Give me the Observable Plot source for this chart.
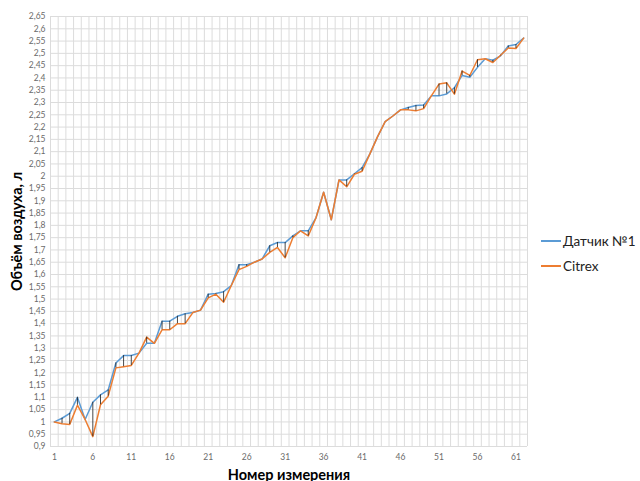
<!DOCTYPE html>
<html>
<head>
<meta charset="utf-8">
<script src="https://cdn.jsdelivr.net/npm/d3@7"></script>
<script src="https://cdn.jsdelivr.net/npm/@observablehq/plot@0.6"></script>
<style>
  html, body { margin: 0; padding: 0; background: #fff; }
  #wrap { position: relative; width: 640px; height: 481px; font-family: Lato, "Open Sans", sans-serif; }
  #wrap svg { font-family: Lato, "Open Sans", sans-serif; }
  g[aria-label="x-axis label"] text, g[aria-label="y-axis label"] text {
    font-weight: bold; font-size: 14.5px; fill: #000;
  }
  g[aria-label="x-axis tick label"] text, g[aria-label="y-axis tick label"] text {
    fill: #6b6b6b; font-size: 8.5px;
  }
  #legend { position: absolute; left: 541px; top: 228px; font-size: 13.5px; color: #222; }
  #legend .item { display: flex; align-items: center; height: 25px; }
  #legend .sw { width: 20px; height: 2px; margin-right: 2px; }
</style>
</head>
<body>
<div id="wrap"></div>
<script>
// Measurement numbers
const measurement = d3.range(1, 63);
// Series: "Датчик №1"
const sensor = [
  1.00, 1.015, 1.035, 1.10, 1.01, 1.08, 1.11, 1.13, 1.24, 1.27,
  1.27, 1.28, 1.32, 1.32, 1.41, 1.41, 1.43, 1.44, 1.445, 1.455,
  1.52, 1.523, 1.53, 1.555, 1.64, 1.64, 1.65, 1.663, 1.717, 1.73,
  1.73, 1.757, 1.778, 1.778, 1.83, 1.935, 1.823, 1.985, 1.985, 2.01,
  2.035, 2.09, 2.16, 2.222, 2.245, 2.27, 2.28, 2.288, 2.29, 2.327,
  2.327, 2.335, 2.36, 2.41, 2.403, 2.443, 2.478, 2.472, 2.49, 2.53,
  2.536, 2.562
];
// Series: "Citrex"
const citrex = [
  1.00, 0.993, 0.99, 1.068, 1.01, 0.94, 1.07, 1.105, 1.22, 1.225,
  1.23, 1.28, 1.345, 1.32, 1.375, 1.375, 1.40, 1.40, 1.445, 1.455,
  1.505, 1.52, 1.487, 1.555, 1.62, 1.633, 1.65, 1.663, 1.69, 1.71,
  1.668, 1.75, 1.778, 1.757, 1.83, 1.935, 1.823, 1.985, 1.957, 2.008,
  2.02, 2.09, 2.16, 2.222, 2.245, 2.27, 2.27, 2.266, 2.275, 2.327,
  2.375, 2.38, 2.334, 2.428, 2.41, 2.474, 2.478, 2.463, 2.492, 2.522,
  2.52, 2.562
];
// Tick labels
const xTicks = [1, 6, 11, 16, 21, 26, 31, 36, 41, 46, 51, 56, 61];
const yTicks = d3.range(0, 36).map(k => +(0.9 + k * 0.05).toFixed(2));
const seriesNames = ["Датчик №1", "Citrex"];
const seriesColors = ["#5b9bd5", "#ed7d31"];

const rows = measurement.map((m, k) => ({ m, s: sensor[k], c: citrex[k] }));
const fmt = v => String(+v.toFixed(2)).replace(".", ",");

const chart = Plot.plot({
  width: 640,
  height: 481,
  marginLeft: 50,
  marginRight: 113,
  marginTop: 16,
  marginBottom: 35,
  x: { type: "linear", domain: [0.5, 62.5] },
  y: { domain: [0.9, 2.65] },
  marks: [
    Plot.gridX(d3.range(0.5, 63, 1), { stroke: "#dcdcdc", strokeOpacity: 1 }),
    Plot.gridY(yTicks, { stroke: "#dcdcdc", strokeOpacity: 1 }),
    Plot.axisX({ ticks: xTicks, tickSize: 0, tickPadding: 7, tickFormat: d => String(d),
      label: "Номер измерения", labelAnchor: "center", labelOffset: 33, labelArrow: "none" }),
    Plot.axisY({ ticks: yTicks, tickSize: 0, tickPadding: 5, tickFormat: fmt,
      label: "Объём воздуха, л", labelAnchor: "center", labelOffset: 39, labelArrow: "none" }),
    Plot.line(rows, { x: "m", y: "s", stroke: seriesColors[0], strokeWidth: 1.5 }),
    Plot.line(rows, { x: "m", y: "c", stroke: seriesColors[1], strokeWidth: 1.5 }),
    Plot.ruleX(rows, { x: "m", y1: "s", y2: "c", stroke: "#1a1a1a", strokeWidth: 0.8 })
  ]
});

const wrap = document.getElementById("wrap");
wrap.appendChild(chart);

const legend = document.createElement("div");
legend.id = "legend";
seriesNames.forEach((name, i) => {
  const item = document.createElement("div");
  item.className = "item";
  const sw = document.createElement("span");
  sw.className = "sw";
  sw.style.background = seriesColors[i];
  const t = document.createElement("span");
  t.textContent = name;
  item.appendChild(sw);
  item.appendChild(t);
  legend.appendChild(item);
});
wrap.appendChild(legend);
</script>
</body>
</html>
